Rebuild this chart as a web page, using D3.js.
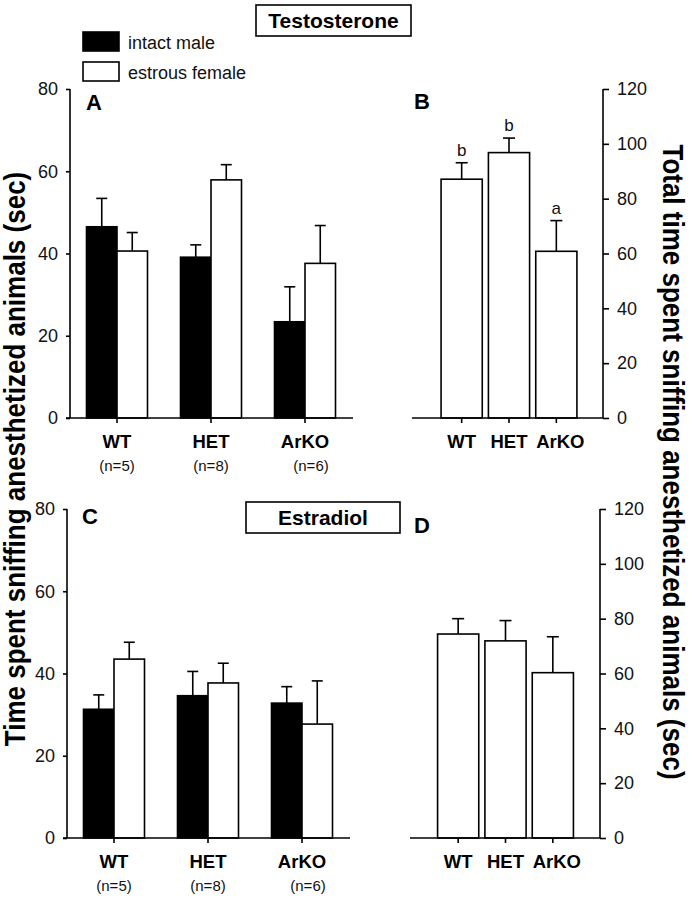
<!DOCTYPE html>
<html>
<head>
<meta charset="utf-8">
<script src="https://cdn.jsdelivr.net/npm/d3@7"></script>
<style>
  html, body { margin: 0; padding: 0; background: #fff; }
  svg { display: block; font-family: "Liberation Sans", Arial, sans-serif; }
</style>
</head>
<body>
<svg id="chart" width="693" height="899"></svg>
<script>
// ---------------- data ----------------
const categories = ["WT", "HET", "ArKO"];
const nLabels = ["(n=5)", "(n=8)", "(n=6)"];
const seriesNames = ["intact male", "estrous female"];

// Panel A (Testosterone) – means and SEM
const testoMale = [46.5, 39.1, 23.4];
const testoMaleSem = [6.9, 3.0, 8.5];
const testoFemale = [40.6, 57.9, 37.6];
const testoFemaleSem = [4.5, 3.7, 9.2];

// Panel B (Testosterone totals)
const testoTotal = [87.1, 96.8, 60.8];
const testoTotalSem = [6.0, 5.3, 11.2];
const testoLetters = ["b", "b", "a"];

// Panel C (Estradiol)
const estMale = [31.3, 34.6, 32.8];
const estMaleSem = [3.5, 5.9, 4.0];
const estFemale = [43.5, 37.7, 27.7];
const estFemaleSem = [4.1, 4.8, 10.5];

// Panel D (Estradiol totals)
const estTotal = [74.4, 71.9, 60.3];
const estTotalSem = [5.6, 7.4, 13.1];

const leftTicks = [0, 20, 40, 60, 80];
const rightTicks = [0, 20, 40, 60, 80, 100, 120];

// ---------------- drawing ----------------
const svg = d3.select("#chart");
const LW = 1.6;

function styleAxis(g) {
  g.selectAll("path.domain").remove();
  g.selectAll(".tick line").attr("stroke", "#000").attr("stroke-width", LW);
  g.selectAll(".tick text").attr("fill", "#111").style("font-size", "18px")
    .style("font-family", "'Liberation Sans', Arial, sans-serif");
}

function errorBar(g, cx, yTop, yErr, cap) {
  g.append("line").attr("x1", cx).attr("x2", cx).attr("y1", yTop).attr("y2", yErr)
    .attr("stroke", "#000").attr("stroke-width", LW);
  g.append("line").attr("x1", cx - cap / 2).attr("x2", cx + cap / 2).attr("y1", yErr).attr("y2", yErr)
    .attr("stroke", "#000").attr("stroke-width", LW);
}

function groupedPanel(cfg) {
  const g = svg.append("g");
  const y = d3.scaleLinear().domain([0, 80]).range([cfg.yBottom, cfg.yTop]);
  const x = d3.scaleBand().domain(categories).range([cfg.axisX, cfg.xEnd]);
  const inner = d3.scaleBand().domain(seriesNames).range([-30.5, 30.5]);

  categories.forEach((c, i) => {
    const cx = x(c) + x.bandwidth() / 2;
    const vals = [cfg.male[i], cfg.female[i]];
    const sems = [cfg.maleSem[i], cfg.femaleSem[i]];
    seriesNames.forEach((s, j) => {
      const bx = cx + inner(s);
      errorBar(g, bx + inner.bandwidth() / 2, y(vals[j]), y(vals[j] + sems[j]), 11);
      g.append("rect")
        .attr("x", bx).attr("y", y(vals[j]))
        .attr("width", inner.bandwidth()).attr("height", y(0) - y(vals[j]))
        .attr("fill", j === 0 ? "#000" : "#fff")
        .attr("stroke", "#000").attr("stroke-width", LW);
    });
  });

  const ya = g.append("g").attr("transform", `translate(${cfg.axisX},0)`)
    .call(d3.axisLeft(y).tickValues(leftTicks).tickSize(4).tickPadding(8));
  styleAxis(ya);
  g.append("line").attr("x1", cfg.axisX).attr("x2", cfg.axisX)
    .attr("y1", y(80)).attr("y2", y(0)).attr("stroke", "#000").attr("stroke-width", LW);

  g.append("line").attr("x1", cfg.axisX - 4).attr("x2", cfg.xLineEnd)
    .attr("y1", y(0)).attr("y2", y(0)).attr("stroke", "#000").attr("stroke-width", LW);
  const xa = g.append("g").attr("transform", `translate(0,${y(0)})`)
    .call(d3.axisBottom(x).tickSize(5).tickSizeOuter(0).tickFormat(""));
  styleAxis(xa);

  categories.forEach((c, i) => {
    const cx = x(c) + x.bandwidth() / 2;
    g.append("text").attr("x", cx).attr("y", y(0) + 30).attr("text-anchor", "middle")
      .style("font-weight", "bold").style("font-size", "18.5px").text(c);
    g.append("text").attr("x", cx + (i === 2 ? 6 : 0)).attr("y", y(0) + 53).attr("text-anchor", "middle")
      .style("font-size", "15px").attr("fill", "#111").text(nLabels[i]);
  });

  g.append("text").attr("x", cfg.letterX).attr("y", cfg.letterY)
    .style("font-weight", "bold").style("font-size", "22px").text(cfg.letter);
}

function totalPanel(cfg) {
  const g = svg.append("g");
  const y = d3.scaleLinear().domain([0, 120]).range([cfg.yBottom, cfg.yTop]);
  const x = d3.scaleBand().domain(categories).range([cfg.xStart, cfg.xEnd])
    .paddingInner(0.13).paddingOuter(0.065);

  categories.forEach((c, i) => {
    const v = cfg.values[i], e = cfg.sem[i];
    const cx = x(c) + x.bandwidth() / 2;
    errorBar(g, cx, y(v), y(v + e), 12);
    g.append("rect").attr("x", x(c)).attr("y", y(v))
      .attr("width", x.bandwidth()).attr("height", y(0) - y(v))
      .attr("fill", "#fff").attr("stroke", "#000").attr("stroke-width", LW);
    if (cfg.letters) {
      g.append("text").attr("x", cx).attr("y", y(v + e) - 7).attr("text-anchor", "middle")
        .style("font-size", "17px").attr("fill", "#111").text(cfg.letters[i]);
    }
  });

  const ya = g.append("g").attr("transform", `translate(${cfg.axisX},0)`)
    .call(d3.axisRight(y).tickValues(rightTicks).tickSize(6).tickPadding(8));
  styleAxis(ya);
  g.append("line").attr("x1", cfg.axisX).attr("x2", cfg.axisX)
    .attr("y1", y(120)).attr("y2", y(0)).attr("stroke", "#000").attr("stroke-width", LW);

  g.append("line").attr("x1", cfg.xLineStart).attr("x2", cfg.axisX)
    .attr("y1", y(0)).attr("y2", y(0)).attr("stroke", "#000").attr("stroke-width", LW);
  const xa = g.append("g").attr("transform", `translate(0,${y(0)})`)
    .call(d3.axisBottom(x).tickSize(5).tickSizeOuter(0).tickFormat(""));
  styleAxis(xa);

  categories.forEach((c, i) => {
    const cx = x(c) + x.bandwidth() / 2;
    g.append("text").attr("x", cx + (i === 2 ? 4 : 0)).attr("y", y(0) + 30).attr("text-anchor", "middle")
      .style("font-weight", "bold").style("font-size", "18.5px").text(c);
  });

  g.append("text").attr("x", cfg.letterX).attr("y", cfg.letterY)
    .style("font-weight", "bold").style("font-size", "22px").text(cfg.letter);
}

groupedPanel({
  yTop: 89, yBottom: 418, axisX: 70, xEnd: 352, xLineEnd: 353,
  male: testoMale, maleSem: testoMaleSem, female: testoFemale, femaleSem: testoFemaleSem,
  letter: "A", letterX: 86, letterY: 110
});
groupedPanel({
  yTop: 509, yBottom: 838, axisX: 67, xEnd: 349, xLineEnd: 350,
  male: estMale, maleSem: estMaleSem, female: estFemale, femaleSem: estFemaleSem,
  letter: "C", letterX: 82, letterY: 524
});
totalPanel({
  yTop: 89, yBottom: 418, xStart: 438, xEnd: 580, axisX: 603, xLineStart: 412,
  values: testoTotal, sem: testoTotalSem, letters: testoLetters,
  letter: "B", letterX: 414, letterY: 109
});
totalPanel({
  yTop: 509, yBottom: 838, xStart: 434.5, xEnd: 576.5, axisX: 600, xLineStart: 410,
  values: estTotal, sem: estTotalSem, letters: null,
  letter: "D", letterX: 414, letterY: 533
});

function boxTitle(x, y, w, h, label) {
  svg.append("rect").attr("x", x).attr("y", y).attr("width", w).attr("height", h)
    .attr("fill", "#fff").attr("stroke", "#000").attr("stroke-width", LW);
  svg.append("text").attr("x", x + w / 2).attr("y", y + h / 2 + 7.5).attr("text-anchor", "middle")
    .style("font-weight", "bold").style("font-size", "21px").text(label);
}
boxTitle(256, 5, 155, 31, "Testosterone");
boxTitle(246, 502, 154, 31, "Estradiol");

const legend = svg.append("g");
seriesNames.forEach((s, j) => {
  legend.append("rect").attr("x", 83).attr("y", 32 + j * 30).attr("width", 36).attr("height", 19)
    .attr("fill", j === 0 ? "#000" : "#fff").attr("stroke", "#000").attr("stroke-width", LW);
  legend.append("text").attr("x", 128).attr("y", 49 + j * 30)
    .style("font-size", "18px").attr("fill", "#111").text(s);
});

svg.append("text")
  .attr("transform", "translate(25,459) rotate(-90) scale(1,1.1)")
  .attr("text-anchor", "middle")
  .style("font-weight", "bold").style("font-size", "26px")
  .text("Time spent sniffing anesthetized animals (sec)");
svg.append("text")
  .attr("transform", "translate(663,462) rotate(90) scale(1,1.1)")
  .attr("text-anchor", "middle")
  .style("font-weight", "bold").style("font-size", "26px")
  .text("Total time spent sniffing anesthetized animals (sec)");
</script>
</body>
</html>
